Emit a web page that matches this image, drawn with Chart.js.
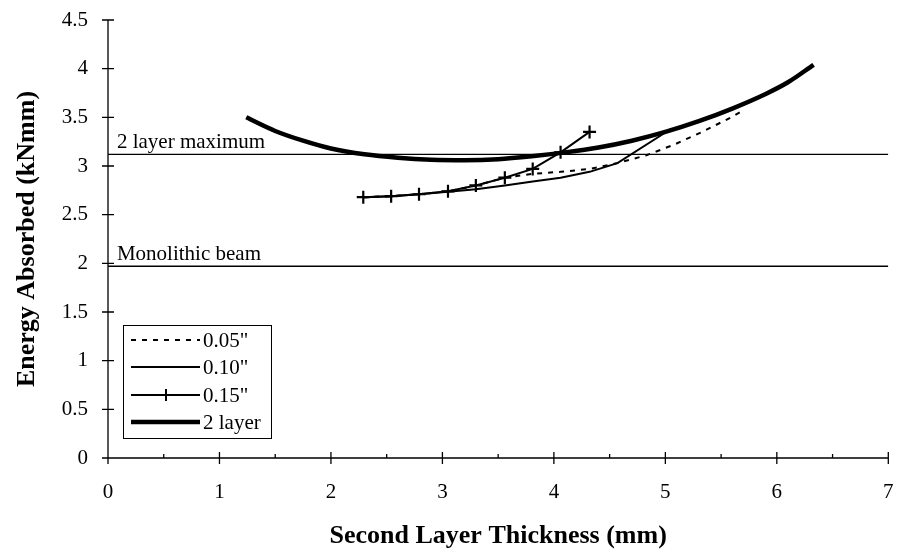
<!DOCTYPE html>
<html>
<head>
<meta charset="utf-8">
<title>Energy Absorbed vs Second Layer Thickness</title>
<script src="https://cdn.jsdelivr.net/npm/chart.js@4.4.0/dist/chart.umd.min.js"></script>
<style>
  html, body { margin: 0; padding: 0; background: #fff; }
  #wrap { width: 897px; height: 552px; }
</style>
</head>
<body>
<div id="wrap"><canvas id="chart" width="897" height="552"></canvas></div>
<script>
// second layer thickness (mm) and energy absorbed (kNmm) for each interlayer
const x005 = [2.29, 2.54, 2.79, 3.05, 3.30, 3.56, 3.81, 4.06, 4.32, 4.57, 4.83, 5.08, 5.33, 5.59, 5.71];
const y005 = [2.68, 2.69, 2.71, 2.74, 2.80, 2.88, 2.92, 2.94, 2.97, 3.03, 3.11, 3.22, 3.35, 3.50, 3.58];

const x010 = [2.29, 2.54, 2.79, 3.05, 3.30, 3.56, 3.81, 4.06, 4.32, 4.57, 5.05];
const y010 = [2.68, 2.69, 2.71, 2.735, 2.76, 2.80, 2.84, 2.88, 2.94, 3.03, 3.38];

const x015 = [2.29, 2.54, 2.79, 3.05, 3.30, 3.56, 3.81, 4.06, 4.32];
const y015 = [2.68, 2.69, 2.71, 2.74, 2.80, 2.88, 2.97, 3.14, 3.35];

const x2layer = [1.24, 1.5, 1.75, 2.0, 2.3, 2.6, 2.9, 3.2, 3.5, 3.8, 4.1, 4.4, 4.7, 5.0, 5.3, 5.6, 5.9, 6.1, 6.33];
const y2layer = [3.50, 3.36, 3.26, 3.18, 3.12, 3.085, 3.065, 3.06, 3.07, 3.10, 3.14, 3.19, 3.26, 3.35, 3.46, 3.59, 3.74, 3.86, 4.04];

// reference levels
const refLabels = ['2 layer maximum', 'Monolithic beam'];
const refLevels = [3.12, 1.97];
const refSpan = [0, 7];

const seriesNames = ['0.05"', '0.10"', '0.15"', '2 layer'];
const xTickValues = [0, 1, 2, 3, 4, 5, 6, 7];
const yTickValues = [0, 0.5, 1, 1.5, 2, 2.5, 3, 3.5, 4, 4.5];

const SERIF = '"Liberation Serif", "Times New Roman", serif';

function pts(xs, ys) {
  return xs.map((x, i) => ({ x: x, y: ys[i] }));
}

const datasets = [
  {
    label: seriesNames[0], data: pts(x005, y005),
    borderColor: '#000', borderWidth: 2, borderDash: [5, 6],
    pointRadius: 0, tension: 0, order: 4
  },
  {
    label: seriesNames[1], data: pts(x010, y010),
    borderColor: '#000', borderWidth: 2,
    pointRadius: 0, tension: 0, order: 3
  },
  {
    label: seriesNames[2], data: pts(x015, y015),
    borderColor: '#000', borderWidth: 2,
    pointStyle: 'cross', pointRadius: 6.5, pointBorderWidth: 2.2,
    pointBorderColor: '#000', tension: 0, order: 2
  },
  {
    label: seriesNames[3], data: pts(x2layer, y2layer),
    borderColor: '#000', borderWidth: 4.5,
    pointRadius: 0, cubicInterpolationMode: 'monotone', order: 1
  }
];

refLevels.forEach((lvl, i) => {
  datasets.push({
    label: refLabels[i],
    data: refSpan.map(x => ({ x: x, y: lvl })),
    borderColor: '#000', borderWidth: 1.3,
    pointRadius: 0, order: 5
  });
});

// scales should not push the plot area in; layout padding does that
function fixPadding(s) {
  s.paddingLeft = 0; s.paddingRight = 0;
  s.paddingTop = 0; s.paddingBottom = 0;
}

// cross tick marks like the original axes
const tickMarks = {
  id: 'tickMarks',
  afterDraw(chart) {
    const ctx = chart.ctx;
    const xs = chart.scales.x, ys = chart.scales.y;
    const x0 = xs.getPixelForValue(0), y0 = ys.getPixelForValue(0);
    ctx.save();
    ctx.strokeStyle = '#000';
    ctx.lineWidth = 1.3;
    ctx.beginPath();
    ctx.moveTo(x0 - 6, y0); ctx.lineTo(xs.getPixelForValue(7), y0);
    ctx.moveTo(x0, y0); ctx.lineTo(x0, ys.getPixelForValue(4.5));
    yTickValues.forEach(v => {
      const p = ys.getPixelForValue(v);
      ctx.moveTo(x0 - 6, p); ctx.lineTo(x0 + 6, p);
    });
    xTickValues.forEach(v => {
      const p = xs.getPixelForValue(v);
      ctx.moveTo(p, y0 - 6); ctx.lineTo(p, y0 + 6);
      if (v < 7) {
        const m = xs.getPixelForValue(v + 0.5);
        ctx.moveTo(m, y0 - 4); ctx.lineTo(m, y0);
      }
    });
    ctx.stroke();
    ctx.restore();
  }
};

// text over the reference lines and the boxed legend
const annotations = {
  id: 'annotations',
  afterDraw(chart) {
    const ctx = chart.ctx;
    const xs = chart.scales.x, ys = chart.scales.y;
    ctx.save();
    ctx.fillStyle = '#000';
    ctx.font = '21px ' + SERIF;
    ctx.textAlign = 'left';
    ctx.textBaseline = 'alphabetic';
    refLevels.forEach((lvl, i) => {
      ctx.fillText(refLabels[i], xs.getPixelForValue(0.08), ys.getPixelForValue(lvl) - 6);
    });

    // legend box
    const bx = 123, by = 325, bw = 148, bh = 113;
    ctx.fillStyle = '#fff';
    ctx.fillRect(bx, by, bw, bh);
    ctx.strokeStyle = '#000';
    ctx.lineWidth = 1;
    ctx.strokeRect(bx + 0.5, by + 0.5, bw, bh);
    const rowY = [340, 367, 395, 422];
    seriesNames.forEach((name, i) => {
      const ds = datasets[i];
      const y = rowY[i];
      ctx.save();
      ctx.strokeStyle = '#000';
      ctx.lineWidth = ds.borderWidth;
      ctx.setLineDash(ds.borderDash || []);
      ctx.beginPath();
      ctx.moveTo(131, y); ctx.lineTo(200, y);
      ctx.stroke();
      ctx.setLineDash([]);
      if (ds.pointStyle === 'cross') {
        ctx.lineWidth = 2;
        ctx.beginPath();
        ctx.moveTo(166, y - 6); ctx.lineTo(166, y + 6);
        ctx.moveTo(160, y); ctx.lineTo(172, y);
        ctx.stroke();
      }
      ctx.restore();
      ctx.fillStyle = '#000';
      ctx.textBaseline = 'middle';
      ctx.fillText(name, 203, y + 1);
    });
    ctx.restore();
  }
};

new Chart(document.getElementById('chart'), {
  type: 'line',
  data: { datasets: datasets },
  options: {
    responsive: false,
    animation: false,
    layout: { padding: { top: 20, right: 2, left: 0, bottom: 0 } },
    plugins: { legend: { display: false }, tooltip: { enabled: false } },
    scales: {
      x: {
        type: 'linear', min: 0, max: 7,
        afterBuildTicks: s => { s.ticks = xTickValues.map(v => ({ value: v })); },
        ticks: { color: '#000', font: { family: SERIF, size: 21 }, padding: 22, maxRotation: 0 },
        grid: { display: false, drawTicks: false },
        border: { display: false },
        title: {
          display: true, text: 'Second Layer Thickness (mm)', color: '#000',
          font: { family: SERIF, size: 26, weight: 'bold' }, padding: { top: 0, bottom: 0 }
        },
        afterFit: s => { s.height = 94; fixPadding(s); }
      },
      y: {
        type: 'linear', min: 0, max: 4.5,
        afterBuildTicks: s => { s.ticks = yTickValues.map(v => ({ value: v })); },
        ticks: { color: '#000', font: { family: SERIF, size: 21 }, padding: 20, callback: v => String(v) },
        grid: { display: false, drawTicks: false },
        border: { display: false },
        title: {
          display: true, text: 'Energy Absorbed (kNmm)', color: '#000',
          font: { family: SERIF, size: 26, weight: 'bold' }, padding: { top: 12, bottom: 0 }
        },
        afterFit: s => { s.width = 108; fixPadding(s); }
      }
    }
  },
  plugins: [tickMarks, annotations]
});
</script>
</body>
</html>
